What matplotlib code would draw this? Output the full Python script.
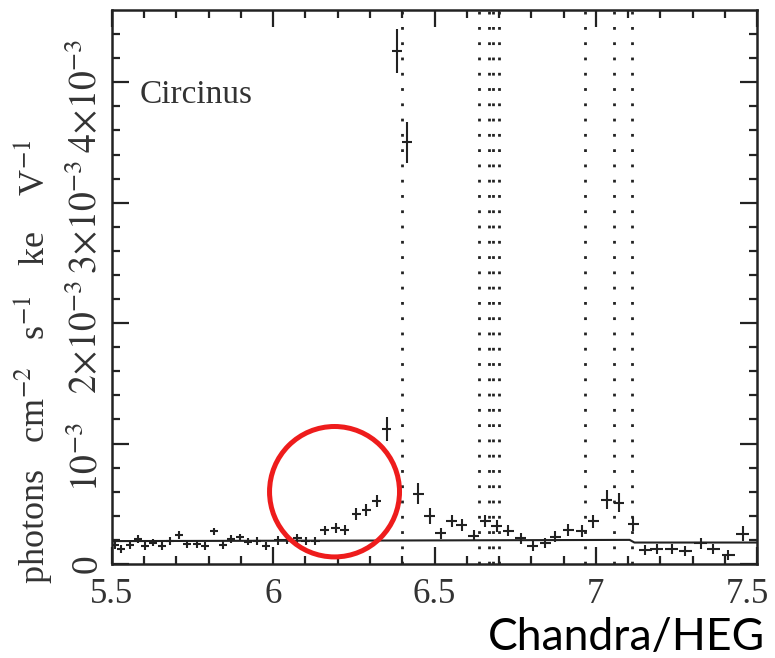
import numpy as np
import matplotlib
matplotlib.use("Agg")
import matplotlib.pyplot as plt
from matplotlib.patches import Ellipse
from matplotlib.transforms import ScaledTranslation

plt.rcParams['font.family'] = ['Liberation Serif', 'DejaVu Serif']
plt.rcParams['mathtext.fontset'] = 'stix'

# HEG spectrum of Circinus, flux in units of 1e-3 photons cm^-2 s^-1 keV^-1
energy = [5.509, 5.528, 5.556, 5.580, 5.602, 5.628, 5.654, 5.680, 5.708, 5.734,
          5.763, 5.788, 5.816, 5.843, 5.868, 5.897, 5.923, 5.951, 5.978, 6.015,
          6.043, 6.074, 6.101, 6.130, 6.160, 6.194, 6.222, 6.257, 6.288, 6.321,
          6.352, 6.383, 6.414, 6.450, 6.485, 6.519, 6.553, 6.584, 6.622, 6.658,
          6.693, 6.729, 6.767, 6.805, 6.843, 6.874, 6.915, 6.956, 6.992, 7.034,
          7.072, 7.116, 7.153, 7.189, 7.235, 7.277, 7.325, 7.365, 7.411, 7.455]
flux = [0.158, 0.122, 0.158, 0.206, 0.150, 0.178, 0.150, 0.190, 0.240, 0.167,
        0.167, 0.150, 0.270, 0.158, 0.210, 0.220, 0.186, 0.190, 0.150, 0.195,
        0.200, 0.212, 0.190, 0.190, 0.278, 0.300, 0.283, 0.417, 0.450, 0.520,
        1.117, 4.260, 3.500, 0.585, 0.400, 0.256, 0.353, 0.325, 0.233, 0.355,
        0.317, 0.275, 0.214, 0.150, 0.172, 0.228, 0.283, 0.270, 0.353, 0.533,
        0.508, 0.333, 0.117, 0.122, 0.122, 0.111, 0.172, 0.122, 0.075, 0.253]
flux_err = [0.032, 0.032, 0.032, 0.032, 0.032, 0.032, 0.032, 0.032, 0.032, 0.032,
            0.032, 0.032, 0.032, 0.032, 0.032, 0.032, 0.032, 0.032, 0.032, 0.035,
            0.035, 0.035, 0.035, 0.035, 0.040, 0.040, 0.040, 0.050, 0.050, 0.050,
            0.100, 0.180, 0.170, 0.085, 0.065, 0.045, 0.050, 0.050, 0.045, 0.050,
            0.050, 0.045, 0.045, 0.042, 0.042, 0.045, 0.050, 0.050, 0.055, 0.080,
            0.080, 0.060, 0.042, 0.042, 0.042, 0.042, 0.045, 0.042, 0.042, 0.060]
energy_err = [0.0125] * 19 + [0.014] * 12 + [0.0155] * 2 + [0.017] * 19 + [0.02] * 8

# continuum model
model_e = [5.5, 6.4, 7.105, 7.12, 7.5]
model_f = [0.190, 0.195, 0.200, 0.178, 0.178]

# line energies (dotted markers)
line_e = [6.400, 6.637, 6.668, 6.682, 6.700, 6.966, 7.058, 7.112]

yticks = [0, 1, 2, 3, 4]
ytick_labels = ['0', r'$10^{-3}$', r'$2\!\times\!10^{-3}$', r'$3\!\times\!10^{-3}$', r'$4\!\times\!10^{-3}$']
xticks = [5.5, 6, 6.5, 7, 7.5]
xtick_labels = ['5.5', '6', '6.5', '7', '7.5']

fig = plt.figure(figsize=(7.75, 6.58), dpi=100)
ax = fig.add_axes([0.1445, 0.1429, 0.8323, 0.8419])

ink = '#222222'
for e in line_e:
    ax.axvline(e, color=ink, lw=2.0, linestyle=(0, (1, 4.5)), zorder=1)

ax.plot(model_e, model_f, color=ink, lw=1.5, zorder=2)
ax.errorbar(energy, flux, yerr=flux_err, xerr=energy_err, fmt='none',
            ecolor=ink, elinewidth=1.5, capsize=0, zorder=3)

ax.set_xlim(5.5, 7.5)
ax.set_ylim(0, 4.6)
ax.set_xticks(xticks)
ax.set_xticklabels(xtick_labels)
ax.set_xticks(np.arange(5.6, 7.5, 0.1), minor=True)
ax.set_yticks(yticks)
ax.set_yticklabels(ytick_labels, rotation=90, va='center')
ax.set_yticks(np.arange(0.2, 4.6, 0.2), minor=True)

ax.tick_params(which='both', direction='in', top=True, right=True, colors=ink,
               labelsize=25, labelcolor='#333333')
ax.tick_params(axis='y', labelsize=27)
ax.tick_params(which='major', length=12, width=1.6)
ax.tick_params(which='minor', length=6, width=1.6)
ax.tick_params(axis='x', pad=10)
ax.tick_params(axis='y', pad=5)
for s in ax.spines.values():
    s.set_linewidth(1.8)
    s.set_color(ink)

# labels with exponents sit a bit lower than their ticks in the original
for lab in ax.get_yticklabels()[1:]:
    lab.set_transform(lab.get_transform() + ScaledTranslation(0, -14 / 100, fig.dpi_scale_trans))
xl = ax.get_xticklabels()[-1]
xl.set_transform(xl.get_transform() + ScaledTranslation(-10 / 100, 0, fig.dpi_scale_trans))

ax.set_ylabel(r'photons   cm$^{-2}$   s$^{-1}$   ke    V$^{-1}$', fontsize=26,
              color='#333333')
ax.yaxis.set_label_coords(-0.09, 0.365)

ax.text(0.043, 0.832, 'Circinus', transform=ax.transAxes, fontsize=24,
        color='#333333', ha='left', va='baseline')

# red highlight circle
ax.add_patch(Ellipse((6.19, 0.6), 0.403, 1.083, fill=False, edgecolor='#ee1c1c',
                     lw=3.6, zorder=5, clip_on=False))

fig.text(0.987, 0.012, 'Chandra/HEG', fontsize=32, family=['Lato', 'DejaVu Sans'],
         ha='right', va='baseline', color='black')

fig.savefig('out.png', dpi=100)
